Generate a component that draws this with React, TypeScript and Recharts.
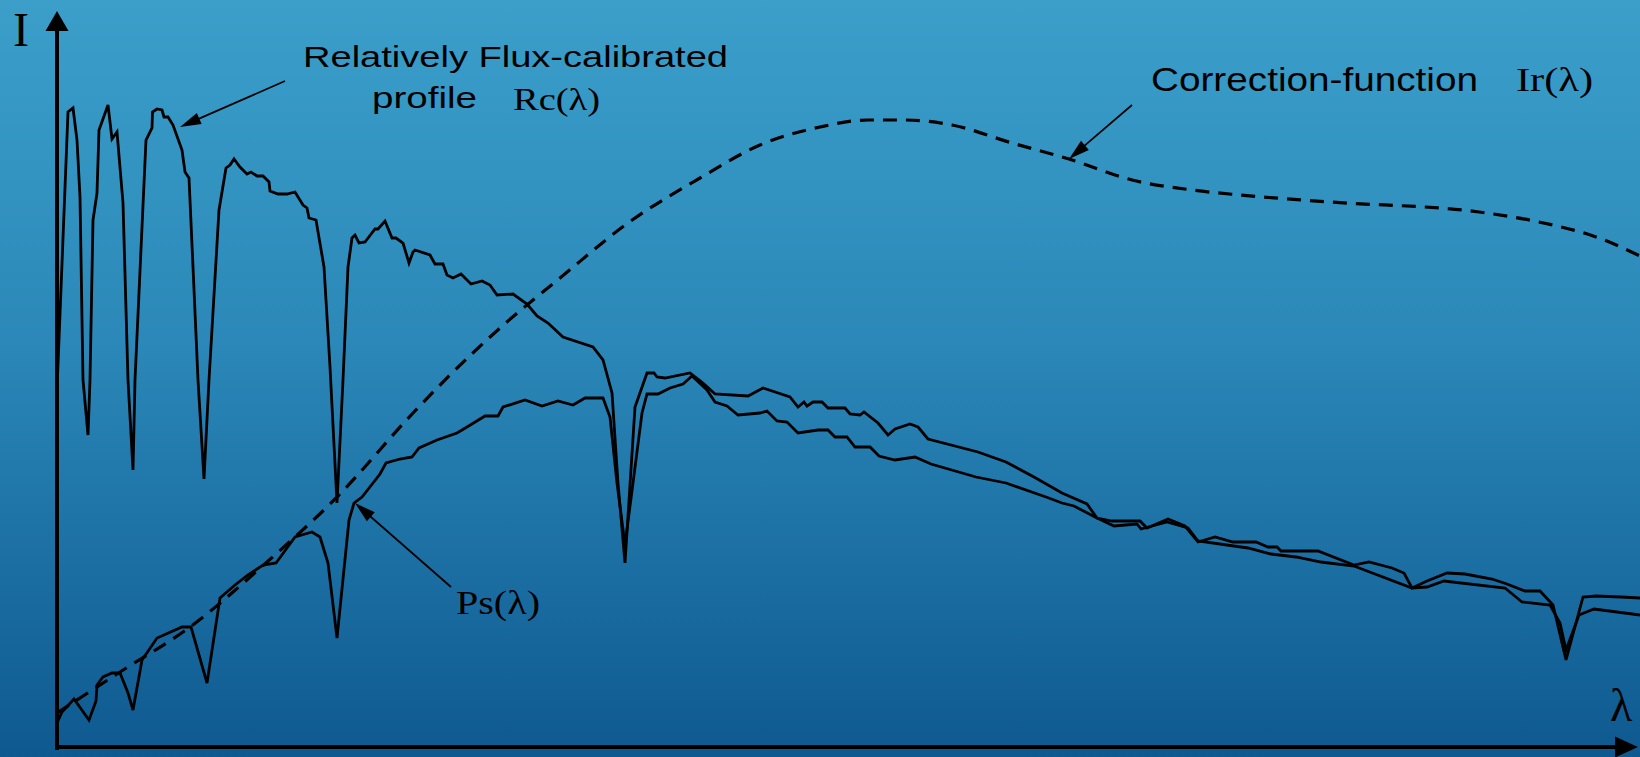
import React from 'react';
import { LineChart, Line, XAxis, YAxis, ReferenceLine, ReferenceDot } from 'recharts';

// λ (arbitrary units) , I (arbitrary units)
const rcProfile: [number, number][] = [
  [0, 35.7], [1.1, 63.5], [1.6, 63.9], [2.0, 60.7], [2.3, 55.0], [2.6, 36.7], [3.1, 31.2],
  [3.3, 36.7], [3.6, 52.7], [4.0, 55.4], [4.2, 61.7], [5.1, 64.2], [5.5, 60.8], [6.0, 61.5],
  [6.6, 54.4], [7.1, 36.7], [7.6, 27.7],
  [7.8, 36.7], [8.9, 60.7], [9.5, 61.9], [9.55, 63.5], [10.0, 63.8], [10.5, 63.7], [10.7, 63.0],
  [11.1, 63.0], [11.6, 62.2], [12.5, 59.7], [12.8, 57.5], [13.2, 56.9], [13.6, 48.0], [14.1, 36.7],
  [14.7, 26.8],
  [15.2, 36.7], [16.2, 53.7], [16.9, 57.9], [17.3, 58.2], [17.7, 58.8], [18.3, 58.0], [19.0, 57.3],
  [19.4, 57.5], [20.0, 57.1], [20.6, 57.1], [21.2, 56.5], [21.3, 55.6], [22.1, 55.3], [23.0, 55.3],
  [23.8, 55.5], [24.6, 54.2], [25.0, 53.9], [25.2, 52.9], [25.9, 52.7], [26.7, 48.0], [27.3, 38.0],
  [28.0, 24.4],
  [28.6, 36.7], [29.1, 48.0], [29.5, 50.9], [29.8, 51.2], [30.2, 50.4], [30.8, 50.5], [31.8, 51.8],
  [32.1, 51.8], [32.8, 52.6], [33.5, 50.9], [33.9, 50.9], [34.6, 50.4], [35.2, 48.4], [35.6, 49.5],
  [35.8, 49.7], [37.3, 49.2], [37.8, 48.3], [38.6, 48.3], [39.0, 47.2], [39.6, 46.9], [40.4, 47.3],
  [41.4, 46.3], [42.5, 46.6], [43.3, 46.2], [44.0, 45.2], [45.6, 45.3], [47.0, 44.3], [48.0, 43.1],
  [49.1, 42.4], [50.6, 41.0], [53.6, 40.0], [54.6, 38.7], [55.5, 35.4], [56.1, 26.4], [56.8, 18.4],
  [57.8, 34.0], [59.0, 37.4], [59.7, 37.4], [60.0, 37.0], [60.8, 36.9], [63.3, 37.4], [64.6, 36.4],
  [65.8, 35.3], [69.1, 35.1], [70.6, 35.9], [73.3, 35.0], [74.1, 34.0], [74.7, 34.5], [75.0, 34.1],
  [75.6, 34.5], [76.5, 34.5], [77.1, 33.9], [78.8, 33.9], [79.3, 33.3], [80.3, 33.2], [80.7, 33.5],
  [82.1, 32.4], [83.1, 31.2], [83.8, 31.8], [85.3, 32.3], [86.1, 32.0], [87.1, 30.8], [92.1, 29.5],
  [94.9, 28.5], [97.7, 27.0], [100.5, 25.4], [103.0, 24.3], [104.0, 22.9], [105.5, 22.6],
  [108.3, 22.6], [109.0, 21.9], [111.1, 22.8], [112.8, 22.1], [114.1, 20.5], [115.8, 21.0],
  [117.6, 20.5], [119.9, 20.5], [121.1, 20.0], [122.0, 20.0], [122.4, 19.6], [126.1, 19.6],
  [129.7, 18.2], [131.2, 18.5], [133.5, 17.9], [134.7, 17.4], [135.5, 15.9], [137.0, 16.6],
  [139.0, 17.4], [140.8, 17.3], [143.5, 16.8], [145.0, 16.3], [146.8, 15.6], [148.3, 15.6],
  [149.6, 14.2], [150.9, 8.7], [152.6, 15.0], [153.9, 15.1], [156.4, 15.0], [158.3, 14.9],
];

const psProfile: [number, number][] = [
  [0, 2.4], [0.5, 3.5], [1.7, 4.8], [3.2, 2.7], [3.9, 4.6], [4.0, 6.2], [4.6, 7.0], [5.5, 7.4],
  [6.3, 7.4], [7.1, 5.4], [7.6, 3.7], [8.5, 8.7], [10.0, 10.9], [12.5, 12.0], [13.4, 12.0],
  [15.0, 6.4], [16.3, 14.9], [17.8, 16.2], [19.1, 17.2], [20.6, 18.2], [21.9, 18.4], [23.8, 21.0],
  [25.5, 21.5], [26.3, 21.0], [27.1, 18.4], [28.0, 10.9], [29.2, 22.7], [29.7, 24.4], [30.5, 25.0],
  [32.3, 27.3], [32.9, 28.4], [34.3, 28.8], [35.5, 29.0], [36.2, 29.9], [38.0, 30.7], [40.0, 31.4],
  [41.0, 32.0], [42.8, 33.1], [44.1, 33.1], [44.6, 34.0], [46.8, 34.7], [48.5, 34.1], [50.1, 34.6],
  [51.6, 34.2], [52.8, 34.9], [54.6, 34.9], [55.3, 33.0], [56.0, 26.4], [56.8, 20.2],
  [58.5, 33.4], [59.0, 35.3], [60.1, 35.3], [61.3, 35.9], [62.6, 36.3], [63.5, 37.1], [65.0, 35.7],
  [65.8, 34.5], [67.0, 34.1], [68.1, 33.2], [70.3, 33.4], [71.0, 33.6], [72.0, 32.6], [73.0, 32.5],
  [74.1, 31.4], [76.1, 31.7], [77.1, 31.7], [77.8, 31.0], [79.0, 31.0], [79.8, 30.0], [81.3, 30.0],
  [82.2, 29.1], [83.8, 28.7], [85.8, 29.0], [87.4, 28.3], [91.9, 27.0], [94.9, 26.4], [98.9, 25.0],
  [100.5, 24.4], [101.7, 24.1], [104.0, 22.9], [105.7, 22.1], [108.0, 22.3], [108.4, 21.8],
  [109.5, 22.1], [111.0, 22.5], [113.1, 21.9], [114.1, 20.6], [119.1, 19.9], [121.4, 19.3],
  [123.9, 19.0], [126.4, 18.5], [129.7, 18.1], [135.5, 15.9], [137.0, 16.0], [138.7, 16.6],
  [144.8, 15.9], [146.5, 14.5], [149.3, 14.2], [150.3, 12.4], [150.9, 9.7], [152.2, 13.2],
  [153.7, 13.8], [158.3, 13.2],
];

const irCorrection: [number, number][] = [
  [0, 3.4], [6.3, 7.5], [13.3, 12.0], [21.0, 18.5], [28.0, 25.0], [35.6, 33.4], [39.3, 37.2],
  [44.3, 41.9], [50.3, 46.9], [57.1, 52.4], [64.3, 56.9], [70.3, 60.2], [76.3, 62.0], [81.1, 62.7],
  [84.7, 62.7], [89.5, 62.2], [95.5, 60.4], [101.2, 58.8], [107.5, 56.7], [113.5, 55.7],
  [118.3, 55.2], [127.3, 54.5], [142.2, 53.5], [148.2, 52.5], [154.2, 50.9], [158.3, 49.1],
];

const toRows = (pts: [number, number][]) => pts.map(([l, v]) => ({ l, v }));
const rcRows = toRows(rcProfile);
const psRows = toRows(psProfile);
const irRows = toRows(irCorrection);

const W = 1640;
const H = 757;

const arrowShape = (headLen: number, headHalf: number, sw: number) => (p: any) => {
  const { x1, y1, x2, y2 } = p;
  const dx = x2 - x1;
  const dy = y2 - y1;
  const len = Math.hypot(dx, dy) || 1;
  const ux = dx / len;
  const uy = dy / len;
  const bx = x2 - ux * headLen;
  const by = y2 - uy * headLen;
  const nx = -uy;
  const ny = ux;
  return (
    <g>
      <line x1={x1} y1={y1} x2={bx + ux * 2} y2={by + uy * 2} stroke="#000" strokeWidth={sw} />
      <polygon
        points={`${x2},${y2} ${bx + nx * headHalf},${by + ny * headHalf} ${bx - nx * headHalf},${by - ny * headHalf}`}
        fill="#000"
      />
    </g>
  );
};

const SANS = "'Liberation Sans', Arial, sans-serif";
const SERIF = "'Liberation Serif', 'DejaVu Serif', serif";

const textShape = (text: string, font: string, size: number, length?: number) => (p: any) => (
  <text
    x={p.cx}
    y={p.cy}
    fontFamily={font}
    fontSize={size}
    fill="#000"
    {...(length ? { textLength: length, lengthAdjust: 'spacingAndGlyphs' } : {})}
  >
    {text}
  </text>
);

const labels = [
  { x: 24.6, y: 68.0, text: 'Relatively Flux-calibrated', font: SANS, size: 30, len: 425 },
  { x: 31.5, y: 63.9, text: 'profile', font: SANS, size: 30, len: 105 },
  { x: 45.6, y: 63.7, text: 'Rc(λ)', font: SERIF, size: 32, len: 87 },
  { x: 109.4, y: 65.6, text: 'Correction-function', font: SANS, size: 33, len: 327 },
  { x: 145.9, y: 65.6, text: 'Ir(λ)', font: SERIF, size: 33, len: 77 },
  { x: 39.9, y: 13.3, text: 'Ps(λ)', font: SERIF, size: 33, len: 84 },
  { x: -4.4, y: 70.1, text: 'I', font: SERIF, size: 48 },
  { x: 155.3, y: 2.6, text: 'λ', font: SERIF, size: 46 },
];

const pointers = [
  { from: { x: 22.8, y: 66.6 }, to: { x: 12.3, y: 62.0 } },
  { from: { x: 107.5, y: 64.2 }, to: { x: 101.2, y: 58.8 } },
  { from: { x: 39.4, y: 16.0 }, to: { x: 29.8, y: 24.4 } },
];

export default function App() {
  return (
    <div
      style={{
        width: W,
        height: H,
        background: 'linear-gradient(to bottom, #3b9fca 0%, #2b88b8 45%, #0e5990 100%)',
        overflow: 'hidden',
      }}
    >
      <style>{'html,body{margin:0;padding:0;overflow:hidden;}'}</style>
      <LineChart width={W} height={H} margin={{ top: 12, right: 0, bottom: 10, left: 57 }}>
        <XAxis dataKey="l" type="number" domain={[0, 158.3]} hide allowDataOverflow />
        <YAxis type="number" domain={[0, 73.5]} hide allowDataOverflow />
        <Line data={irRows} dataKey="v" type="monotone" stroke="#000" strokeWidth={3.2}
          strokeDasharray="14 9" dot={false} isAnimationActive={false} />
        <Line data={psRows} dataKey="v" type="linear" stroke="#000" strokeWidth={2.8}
          dot={false} isAnimationActive={false} />
        <Line data={rcRows} dataKey="v" type="linear" stroke="#000" strokeWidth={2.8}
          dot={false} isAnimationActive={false} />
        <ReferenceLine
          segment={[{ x: 0, y: -0.3 }, { x: 0, y: 73.6 }]}
          ifOverflow="visible"
          shape={arrowShape(20, 11.5, 4)}
        />
        <ReferenceLine
          segment={[{ x: -0.2, y: 0 }, { x: 158.1, y: 0 }]}
          ifOverflow="visible"
          shape={arrowShape(23, 10.5, 4)}
        />
        {pointers.map((p, i) => (
          <ReferenceLine
            key={`p${i}`}
            segment={[p.from, p.to]}
            ifOverflow="visible"
            shape={arrowShape(21, 6, 1.7)}
          />
        ))}
        {labels.map((lb, i) => (
          <ReferenceDot
            key={`t${i}`}
            x={lb.x}
            y={lb.y}
            r={1}
            ifOverflow="visible"
            shape={textShape(lb.text, lb.font, lb.size, lb.len)}
          />
        ))}
      </LineChart>
    </div>
  );
}
